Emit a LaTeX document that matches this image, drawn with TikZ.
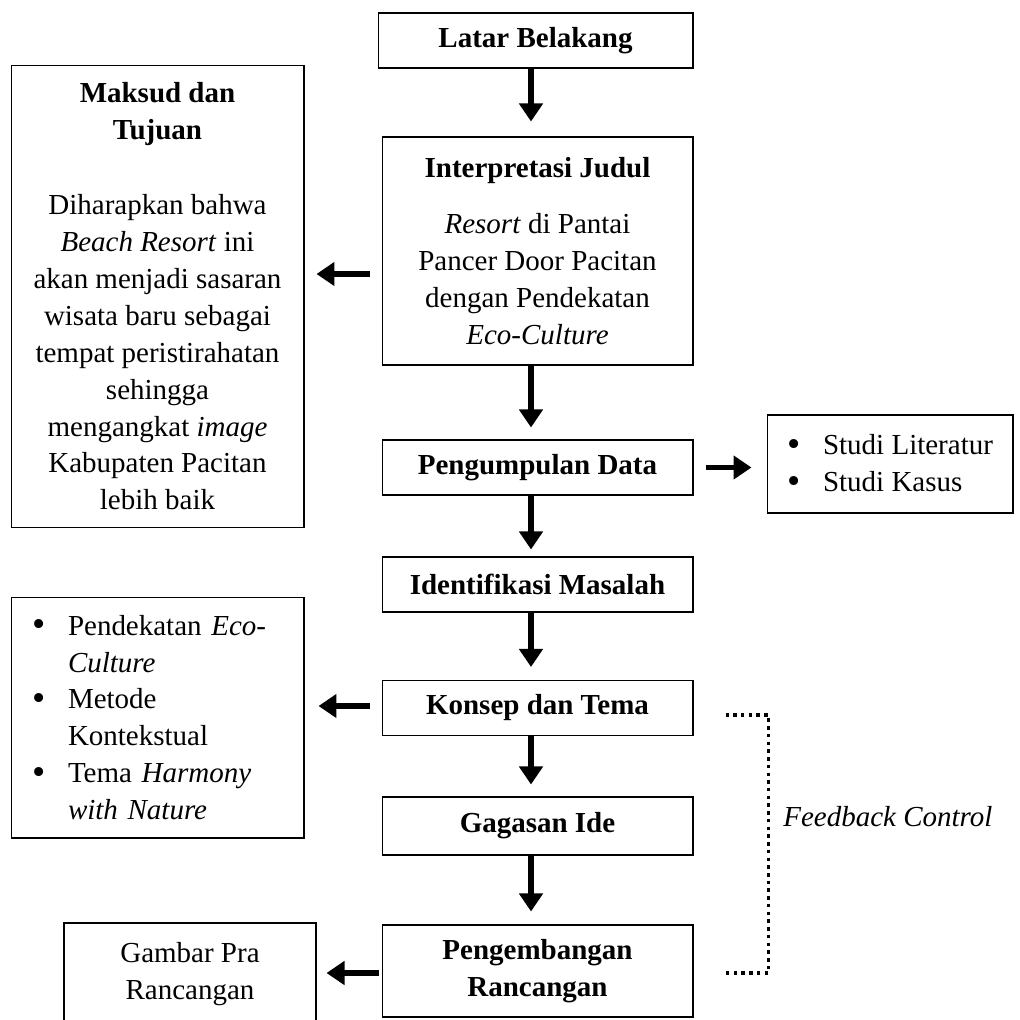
\documentclass[tikz,border=0pt]{standalone}
\usepackage{fontspec}
\setmainfont{Liberation Serif}
\usetikzlibrary{arrows.meta,calc}

\newcommand{\listdot}{\makebox[0.72cm][l]{\raisebox{-0.05em}{\scalebox{1.3}{\textbullet}}}}

\begin{document}
\begin{tikzpicture}[x=0.02cm, y=-0.02cm,
  box/.style={draw, line width=0.6pt, rectangle, inner sep=0pt, align=center, font=\fontsize{16.5}{21}\selectfont},
  stagebox/.style={box, font=\fontsize{16.5}{21}\selectfont\bfseries, minimum width=6.22cm, minimum height=1.1cm},
  arrow/.style={-{Triangle[length=0.36cm, width=0.46cm]}, line width=3.4pt},
  feedback/.style={line width=2pt, dash pattern=on 2pt off 2.4pt}
]
\useasboundingbox (0,0) rectangle (1019,1020);
\coordinate (spine) at (531,0);

\node[stagebox, minimum width=6.3cm] (latar) at (535.5,40.5) {Latar Belakang};
\node[box, minimum width=6.22cm, minimum height=4.56cm] (interp) at (537.5,251)
  {\textbf{Interpretasi Judul}\\[0.38cm]
   \textit{Resort} di Pantai\\Pancer Door Pacitan\\dengan Pendekatan\\\textit{Eco-Culture}};
\node[box, minimum width=5.86cm, minimum height=9.26cm] (maksud) at (157.5,296.5)
  {\textbf{Maksud dan}\\\textbf{Tujuan}\\[0.76cm]
   Diharapkan bahwa\\\textit{Beach Resort} ini\\akan menjadi sasaran\\wisata baru sebagai\\
   tempat peristirahatan\\sehingga\\mengangkat \textit{image}\\Kabupaten Pacitan\\lebih baik};
\node[stagebox] (data) at (537.5,467.5) {Pengumpulan Data};
\node[box, align=left, minimum width=4.92cm, minimum height=1.96cm] (studi) at (890,464)
  {\listdot Studi Literatur\\\listdot Studi Kasus};
\node[stagebox] (masalah) at (537.5,584.5) {Identifikasi Masalah};
\node[box, align=left, text width=5.02cm, minimum width=5.86cm, minimum height=4.82cm] (pendekatan) at (157.5,717.5)
  {\listdot Pendekatan \textit{Eco-}\\\hspace*{0.72cm}\textit{Culture}\\
   \listdot Metode\\\hspace*{0.72cm}Kontekstual\\
   \listdot Tema \textit{Harmony}\\\hspace*{0.72cm}\textit{with Nature}};
\node[stagebox] (konsep) at (537.5,708) {Konsep dan Tema};
\node[stagebox, minimum height=1.16cm] (gagasan) at (537.5,826) {Gagasan Ide};
\node[stagebox, minimum height=1.84cm] (rancangan) at (537.5,971) {Pengembangan\\Rancangan};
\node[box, minimum width=5.04cm, minimum height=2.04cm] (gambar) at (190,974) {Gambar Pra\\Rancangan};
\node[anchor=west, inner sep=0pt, font=\fontsize{16.5}{21}\selectfont\itshape] (fbtext) at (783,817) {Feedback Control};

\draw[arrow, shorten >=0.3cm] (latar.south -| spine) -- (interp.north -| spine);
\draw[arrow, shorten >=0.24cm] (interp.south -| spine) -- (data.north -| spine);
\draw[arrow, shorten >=0.14cm] (data.south -| spine) -- (masalah.north -| spine);
\draw[arrow, shorten >=0.26cm] (masalah.south -| spine) -- (konsep.north -| spine);
\draw[arrow, shorten >=0.24cm] (konsep.south -| spine) -- (gagasan.north -| spine);
\draw[arrow, shorten >=0.26cm] (gagasan.south -| spine) -- (rancangan.north -| spine);

\draw[arrow, shorten <=0.24cm, shorten >=0.24cm] (interp.west |- 0,274) -- (maksud.east |- 0,274);
\draw[arrow, shorten <=0.24cm, shorten >=0.3cm] (data.east) -- (studi.west |- data.east);
\draw[arrow, shorten <=0.24cm, shorten >=0.28cm] (konsep.west |- 0,706) -- (pendekatan.east |- 0,706);
\draw[arrow, shorten <=0.06cm, shorten >=0.2cm] (rancangan.west |- 0,973) -- (gambar.east |- 0,973);

\coordinate (fbstart) at ($(konsep.east)+(32,7)$);
\coordinate (fbend) at ($(rancangan.east)+(32,2)$);
\draw[feedback] (fbstart) -- ++(43,0) |- (fbend);
\end{tikzpicture}
\end{document}
